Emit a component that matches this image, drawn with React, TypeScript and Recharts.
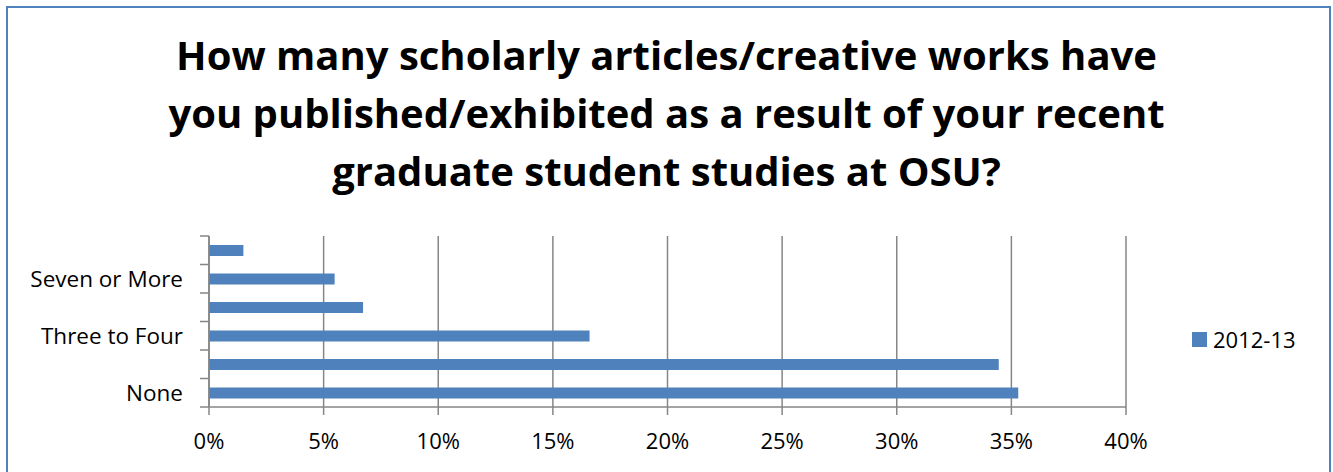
import React from "react";
import {
	BarChart,
	Bar,
	XAxis,
	YAxis,
	CartesianGrid,
	Legend,
} from "recharts";

const categories = [
	"None",
	"One to Two",
	"Three to Four",
	"Five to Six",
	"Seven or More",
	"Not Applicable",
];
const values2012 = [35.3, 34.45, 16.6, 6.72, 5.48, 1.5];
const xTicks = [0, 5, 10, 15, 20, 25, 30, 35, 40];

const FONT = "'Open Sans', sans-serif";
const BLUE = "#4f81bd";
const GRID = "#868686";
const HALF_BAND = 171 / 12;

const data = categories.map((c, i) => ({ category: c, value: values2012[i] }));

const CategoryTick = (props: any) => {
	const { x, y, payload, index } = props;
	return (
		<g>
			<line x1={x - 9} x2={x} y1={y + HALF_BAND} y2={y + HALF_BAND} stroke={GRID} strokeWidth={1.5} />
			{index === categories.length - 1 && (
				<line x1={x - 9} x2={x} y1={y - HALF_BAND} y2={y - HALF_BAND} stroke={GRID} strokeWidth={1.5} />
			)}
			{index % 2 === 0 && (
				<text x={x - 26} y={y} dy={8} textAnchor="end" fontSize={22.5} fontFamily={FONT} fill="#000">
					{payload.value}
				</text>
			)}
		</g>
	);
};

const LegendBox = () => (
	<div style={{ display: "flex", alignItems: "center", fontFamily: FONT, fontSize: 22, color: "#000" }}>
		<span style={{ display: "inline-block", width: 15, height: 15, background: BLUE, marginRight: 6 }} />
		<span>2012-13</span>
	</div>
);

export default function App() {
	return (
		<div
			style={{
				position: "fixed",
				left: 0,
				top: 0,
				width: 1333,
				height: 472,
				background: "#fff",
				overflow: "hidden",
			}}
		>
			<div
				style={{
					position: "absolute",
					left: 6,
					top: 6,
					width: 1321,
					height: 480,
					border: `2px solid ${BLUE}`,
				}}
			/>
			<div
				style={{
					position: "absolute",
					left: 0,
					top: 26,
					width: 1333,
					textAlign: "center",
					fontFamily: FONT,
					fontWeight: 700,
					fontSize: 40,
					lineHeight: "58px",
					color: "#000",
				}}
			>
				How many scholarly articles/creative works have
				<br />
				you published/exhibited as a result of your recent
				<br />
				graduate student studies at OSU?
			</div>
			<div style={{ position: "absolute", left: 0, top: 0 }}>
				<BarChart
					width={1333}
					height={472}
					data={data}
					layout="vertical"
					margin={{ top: 236, right: 77, bottom: 25, left: 0 }}
					barCategoryGap={0}
				>
					<CartesianGrid horizontal={false} stroke={GRID} strokeWidth={1.5} />
					<XAxis
						type="number"
						domain={[0, 40]}
						ticks={xTicks}
						tickFormatter={(v) => `${v}%`}
						stroke={GRID}
						strokeWidth={1.5}
						tickSize={8}
						height={40}
						tick={{ fontSize: 22, fontFamily: FONT, fill: "#000" }}
						tickMargin={18}
					/>
					<YAxis
						type="category"
						dataKey="category"
						reversed
						width={209}
						stroke={GRID}
						strokeWidth={1.5}
						tickLine={false}
						tickSize={0}
						tickMargin={0}
						interval={0}
						tick={<CategoryTick />}
					/>
					<Legend
						layout="vertical"
						align="right"
						verticalAlign="middle"
						content={<LegendBox />}
						wrapperStyle={{ position: "absolute", left: 1192, top: 324, width: 130 }}
					/>
					<Bar
						dataKey="value"
						name="2012-13"
						fill={BLUE}
						barSize={11}
						isAnimationActive={false}
					/>
				</BarChart>
			</div>
		</div>
	);
}
